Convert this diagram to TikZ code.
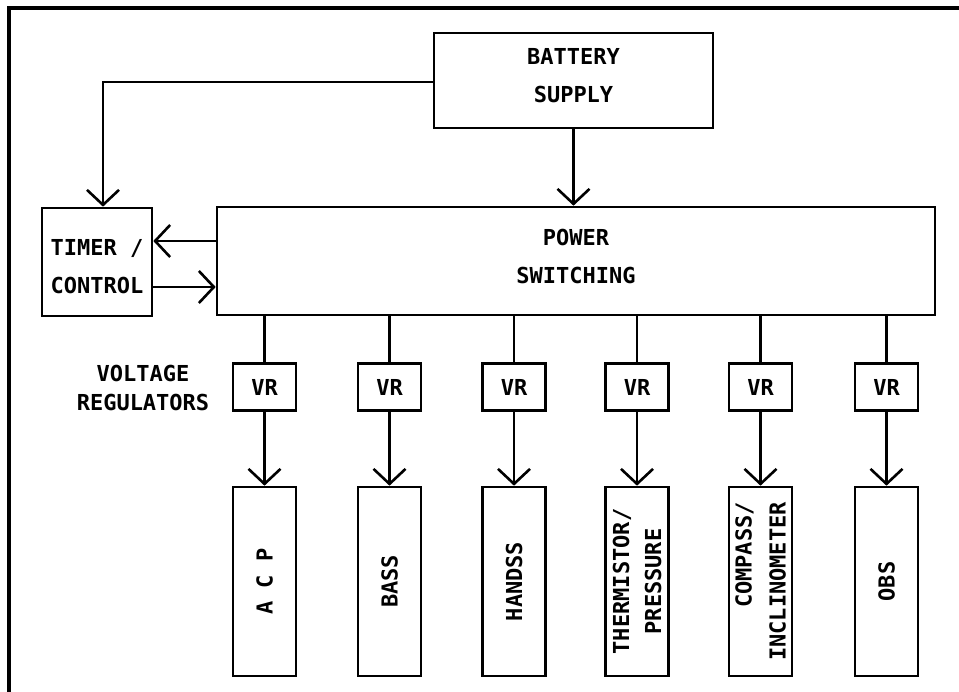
\documentclass[tikz,border=0pt]{standalone}
\usepackage{fontspec}
\newfontfamily\plotfont{DejaVu Sans Mono}
\usetikzlibrary{arrows.meta}
\begin{document}
\begin{tikzpicture}[x=1pt,y=-1pt,
  line width=2.6pt,
  every node/.style={font=\plotfont\bfseries\fontsize{22}{38}\selectfont, align=center, inner sep=0pt},
  blk/.style={draw, line width=2.6pt},
  vrbox/.style={blk, minimum width=63pt, minimum height=47pt},
  unit/.style={blk, rotate=90, minimum width=189pt, minimum height=63pt},
  arr/.style={-{Straight Barb[length=15pt,width=32pt]}}
]
\useasboundingbox (0,0) rectangle (959,692);
% outer frame
\draw[line width=3.5pt] (9,692) -- (9,8) -- (959,8);

\node[blk, minimum width=279pt, minimum height=95pt] (bat) at (573.5,80.5) {};
\node (batT) at (573.5,76) {BATTERY\\SUPPLY};
\node[blk, minimum width=110pt, minimum height=108pt] (tim) at (97,262) {};
\node (timT) at (97,267) {TIMER /\\CONTROL};
\node[blk, minimum width=718pt, minimum height=108pt] (pow) at (576,261) {};
\node (powT) at (576,256) {POWER\\SWITCHING};

\node[font=\plotfont\bfseries\fontsize{22}{29}\selectfont] (vlab) at (143,388) {VOLTAGE\\REGULATORS};

\foreach \i/\x in {1/264.5,2/389.5,3/514,4/637,5/760.5,6/886.5}{
  \node[vrbox] (vr\i) at (\x,387) {VR};
}
\node[unit] (u1) at (264.5,581.5) {A C P};
\node[unit] (u2) at (389.5,581.5) {BASS};
\node[unit] (u3) at (514,581.5) {HANDSS};
\node[unit, font=\plotfont\bfseries\fontsize{22}{32}\selectfont] (u4) at (637,581.5) {THERMISTOR/\\PRESSURE};
\node[unit, align=right, font=\plotfont\bfseries\fontsize{22}{34}\selectfont] (u5) at (760.5,581.5) {COMPASS/\\INCLINOMETER};
\node[unit] (u6) at (886.5,581.5) {OBS};

% connectors
\coordinate (c1) at (103,82);
\draw[arr] (bat.west |- c1) -- (c1) -- (c1 |- tim.north);
\draw[arr] (bat.south) -- (bat.south |- pow.north);
\coordinate (ya) at (0,241);
\coordinate (yb) at (0,287);
\draw[arr] (pow.west |- ya) -- (tim.east |- ya);
\draw[arr] (tim.east |- yb) -- (pow.west |- yb);
\foreach \i in {1,...,6}{
  \draw (vr\i |- pow.south) -- (vr\i.north);
  \draw[arr] (vr\i.south) -- (vr\i.south |- u\i.east);
}
\end{tikzpicture}
\end{document}
